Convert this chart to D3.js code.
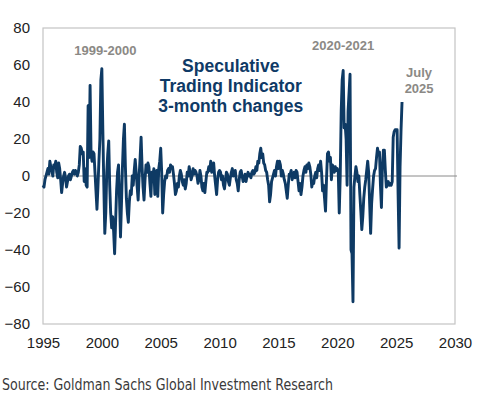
<!DOCTYPE html>
<html>
<head>
<meta charset="utf-8">
<script src="https://cdn.jsdelivr.net/npm/d3@7"></script>
<style>
  html, body { margin: 0; padding: 0; background: #fff; }
  svg { display: block; }
</style>
</head>
<body>
<div id="chart"></div>
<script>
/* Data: monthly 3-month changes, Jan 1995 .. Jul 2025 */
const startYear = 1995;
const values = [
  -5, -6, -2, 0, 2, 4, 1, 8, 5, 3, 0, 6,            // 1995
  5, 8, 2, -1, 7, 4, -2, -9, -4, 0, 2, -1,          // 1996
  -6, -3, 0, 1, -2, 0, 2, 3, 1, 3, 2, 0,            // 1997
  2, 6, 16, 15, 12, 13, -3, 4, -5, -6, 38, 10,      // 1998
  49, 12, 8, 13, 12, 2, -8, -18, -6, 8, 20, 52,     // 1999
  58, 25, -5, -31, -20, 2, 12, 19, -5, -20, -28, -22, // 2000
  -30, -42, -25, -8, 2, 6, -12, -33, -15, 5, 20, 28, // 2001
  5, -12, -20, -25, -14, -8, -10, 0, -5, 3, 9, 2,   // 2002
  -6, -13, 0, 10, 21, 5, -6, -13, -2, 6, 2, 7,      // 2003
  5, -4, -11, 2, -2, 4, -10, -3, 3, -11, 4, 8,      // 2004
  15, 2, -20, -10, -3, 0, -1, 3, 4, 2, 6, 5,        // 2005
  5, 1, -4, -10, -8, -4, -6, 0, 3, 1, -3, -5,       // 2006
  -2, -7, -4, 2, 0, 5, 2, -2, 0, 4, 1, 3,           // 2007
  2, 0, -4, -2, 3, 0, -6, -8, -4, -9, -3, 2,        // 2008
  2, 5, 3, 8, 2, 4, 7, 0, -5, -10, -2, 2,           // 2009
  3, 2, -2, 0, -5, -7, -2, 2, 1, -3, -5, -1,        // 2010
  2, 4, 0, 1, 3, -2, -4, -8, -2, 2, 3, 0,           // 2011
  -3, -2, 1, -3, 0, 2, 0, 1, -1, 2, 3, 1,           // 2012
  2, 5, 3, 8, 7, 12, 15, 10, 12, 7, 6, 3,           // 2013
  2, -2, -5, -14, -10, -3, -1, 1, 3, 0, 5, 8,       // 2014
  4, 8, 6, 0, 3, 1, -2, -4, -8, -12, -5, 1,         // 2015
  1, 3, -2, 0, 2, -1, 3, 2, -3, -8, -4, -10,        // 2016
  -6, 0, 3, 5, 2, 6, 4, 7, 5, 1, -6, -3,            // 2017
  -4, 0, 2, -1, 4, 6, 3, 8, 2, -8, -5, -12,         // 2018
  -19, -2, 12, 13, 8, 10, -2, 6, 5, 2, 5, 3,        // 2019
  4, 2, -20, 0, 35, 52, 57, 26, 28, 20, -5, 35,     // 2020
  45, 55, -40, -42, -68, -6, 0, 5, 2, -3, 0, -10,   // 2021
  -19, -29, -22, -12, -6, -2, 3, 8, 2, -15, -31, -15, // 2022
  -7, 0, 3, 4, 10, 15, 12, 13, -5, -17, 5, 14,      // 2023
  14, 3, -6, -5, -3, -5, -4, -5, -3, 21, 24, 25,    // 2024
  25, 25, -10, -39, 5, 25, 40                       // 2025 (to July)
];

const yearTicks = [1995, 2000, 2005, 2010, 2015, 2020, 2025, 2030];
const valueTicks = [-80, -60, -40, -20, 0, 20, 40, 60, 80];
const titleLines = ["Speculative", "Trading Indicator", "3-month changes"];
const notes = [
  { lines: ["1999-2000"], year: 2000.3 , value: 65.5 },
  { lines: ["2020-2021"], year: 2020.5 , value: 68 },
  { lines: ["July", "2025"], year: 2026.95, value: 53.5 }
];

/* Dimensions */
const W = 481, H = 397;
const margin = { top: 28, right: 26, bottom: 73, left: 43 };
const width = W - margin.left - margin.right;
const height = H - margin.top - margin.bottom;

const svg = d3.select("#chart").append("svg")
    .attr("width", W)
    .attr("height", H);

svg.append("rect").attr("width", W).attr("height", H).attr("fill", "#fff");

const g = svg.append("g")
    .attr("transform", `translate(${margin.left},${margin.top})`);

/* Scales */
const x = d3.scaleLinear().domain([1995, 2030]).range([0, width]);
const y = d3.scaleLinear().domain([-80, 80]).range([height, 0]);

const data = values.map((v, i) => ({ t: startYear + i / 12, v }));

/* Frame */
g.append("rect")
    .attr("width", width)
    .attr("height", height)
    .attr("fill", "none")
    .attr("stroke", "#c4c4c4")
    .attr("stroke-width", 1.2);

/* Axes (labels only) */
const fontAxis = "'Liberation Sans', Arial, sans-serif";
g.append("g")
    .attr("transform", `translate(0,${height})`)
    .call(d3.axisBottom(x).tickValues(yearTicks).tickFormat(d3.format("d")).tickSize(0).tickPadding(13))
    .call(a => a.select(".domain").remove())
    .selectAll("text")
      .style("font-family", fontAxis)
      .style("font-size", "15px")
      .style("fill", "#222");

g.append("g")
    .call(d3.axisLeft(y).tickValues(valueTicks).tickSize(0).tickPadding(13))
    .call(a => a.select(".domain").remove())
    .selectAll("text")
      .style("font-family", fontAxis)
      .style("font-size", "15px")
      .style("fill", "#222");

/* Zero line, with a small overhang at the right edge */
g.append("line")
    .attr("x1", 0).attr("x2", width + 2)
    .attr("y1", y(0)).attr("y2", y(0))
    .attr("stroke", "#8a8a8a")
    .attr("stroke-width", 1);

/* Series */
const line = d3.line().x(d => x(d.t)).y(d => y(d.v));
g.append("path")
    .datum(data)
    .attr("fill", "none")
    .attr("stroke", "#0e3a64")
    .attr("stroke-width", 2.9)
    .attr("stroke-linejoin", "round")
    .attr("d", line);

/* Title inside plot */
const title = g.append("text")
    .attr("text-anchor", "middle")
    .style("font-family", fontAxis)
    .style("font-size", "17.5px")
    .style("font-weight", "bold")
    .style("fill", "#0f3a66");
titleLines.forEach((s, i) => {
    title.append("tspan")
        .attr("x", x(2010.95))
        .attr("y", 44 + i * 20)
        .text(s);
});

/* Period annotations */
notes.forEach(n => {
    const t = g.append("text")
        .attr("text-anchor", "middle")
        .style("font-family", fontAxis)
        .style("font-size", "13px")
        .style("font-weight", "bold")
        .style("fill", "#8b8985");
    n.lines.forEach((s, i) => {
        t.append("tspan")
            .attr("x", x(n.year))
            .attr("y", y(n.value) + i * 16)
            .text(s);
    });
});

/* Source */
svg.append("text")
    .attr("x", 2)
    .attr("y", 390)
    .attr("textLength", 331)
    .attr("lengthAdjust", "spacingAndGlyphs")
    .style("font-family", "'Liberation Sans Narrow', 'DejaVu Sans Condensed', sans-serif")
    .style("font-size", "16px")
    .style("fill", "#3a3a3a")
    .text("Source: Goldman Sachs Global Investment Research");
</script>
</body>
</html>
